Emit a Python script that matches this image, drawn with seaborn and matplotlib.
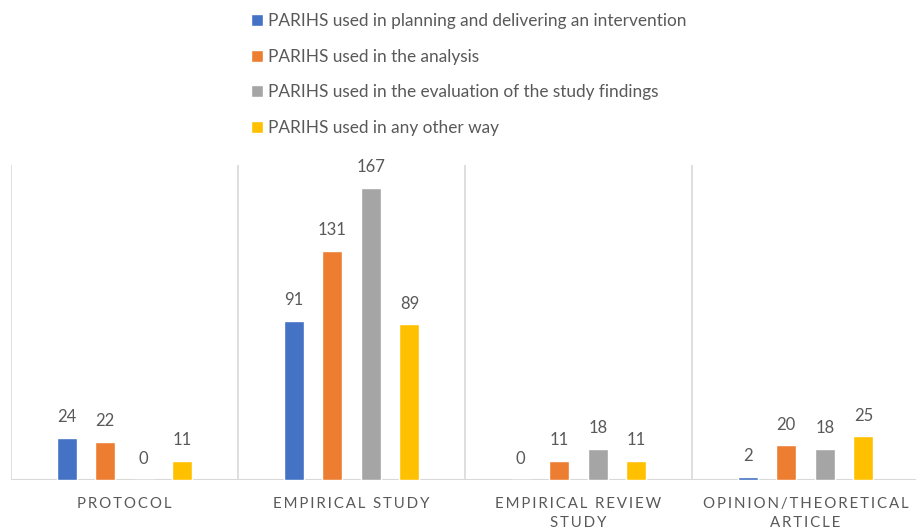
import pandas as pd
import matplotlib.pyplot as plt
import seaborn as sns

# data
categories = ['Protocol', 'Empirical study', 'Empirical review study', 'Opinion/theoretical article']
tick_labels = ['PROTOCOL', 'EMPIRICAL STUDY', 'EMPIRICAL REVIEW\nSTUDY', 'OPINION/THEORETICAL\nARTICLE']
series = [
    'PARIHS used in planning and delivering an intervention',
    'PARIHS used in the analysis',
    'PARIHS used in the evaluation of the study findings',
    'PARIHS used in any other way',
]
planning = [24, 91, 0, 2]
analysis = [22, 131, 11, 20]
evaluation = [0, 167, 18, 18]
other_way = [11, 89, 11, 25]
colors = ['#4472C4', '#ED7D31', '#A5A5A5', '#FFC000']

rows = []
for name, vals in zip(series, [planning, analysis, evaluation, other_way]):
    for cat, v in zip(categories, vals):
        rows.append({'category': cat, 'series': name, 'count': v})
df = pd.DataFrame(rows)

sns.set_style('white')
plt.rcParams['font.family'] = ['Lato', 'DejaVu Sans']
text_col = '#595959'
grid_col = '#D9D9D9'

fig = plt.figure(figsize=(9.16, 5.29), dpi=100)
ax = fig.add_axes([11 / 916, 49 / 529, 908 / 916, 315 / 529])

sns.barplot(data=df, x='category', y='count', hue='series', order=categories,
            hue_order=series, palette=colors, width=0.68, gap=0.48,
            saturation=1, ax=ax, legend=True)

for c in ax.containers:
    ax.bar_label(c, padding=9, color=text_col, fontsize=12)

ax.set_ylim(0, 180)
ax.set_xlim(-0.5, 3.5)
for x in [-0.5, 0.5, 1.5, 2.5, 3.5]:
    ax.axvline(x, color=grid_col, lw=1.2, zorder=0)
ax.axhline(0, color=grid_col, lw=1.5, zorder=0)
for s in ax.spines.values():
    s.set_visible(False)

def spaced(s):
    return '\n'.join('\u2009'.join(line) for line in s.split('\n'))

ax.set_xticks(range(len(categories)))
ax.set_xticklabels([spaced(t) for t in tick_labels], color=text_col, fontsize=10.8,
                   linespacing=1.45)
ax.tick_params(axis='x', length=0, pad=12)
ax.set_yticks([])
ax.set_xlabel('')
ax.set_ylabel('')

handles, labels = ax.get_legend_handles_labels()
ax.get_legend().remove()
fig.legend(handles, labels, loc='upper center', bbox_to_anchor=(0.512, 1.005),
           frameon=False, fontsize=12.4, labelcolor=text_col, handlelength=0.7,
           handleheight=0.7, handletextpad=0.3, labelspacing=1.15)

plt.savefig('out.png', dpi=100)
